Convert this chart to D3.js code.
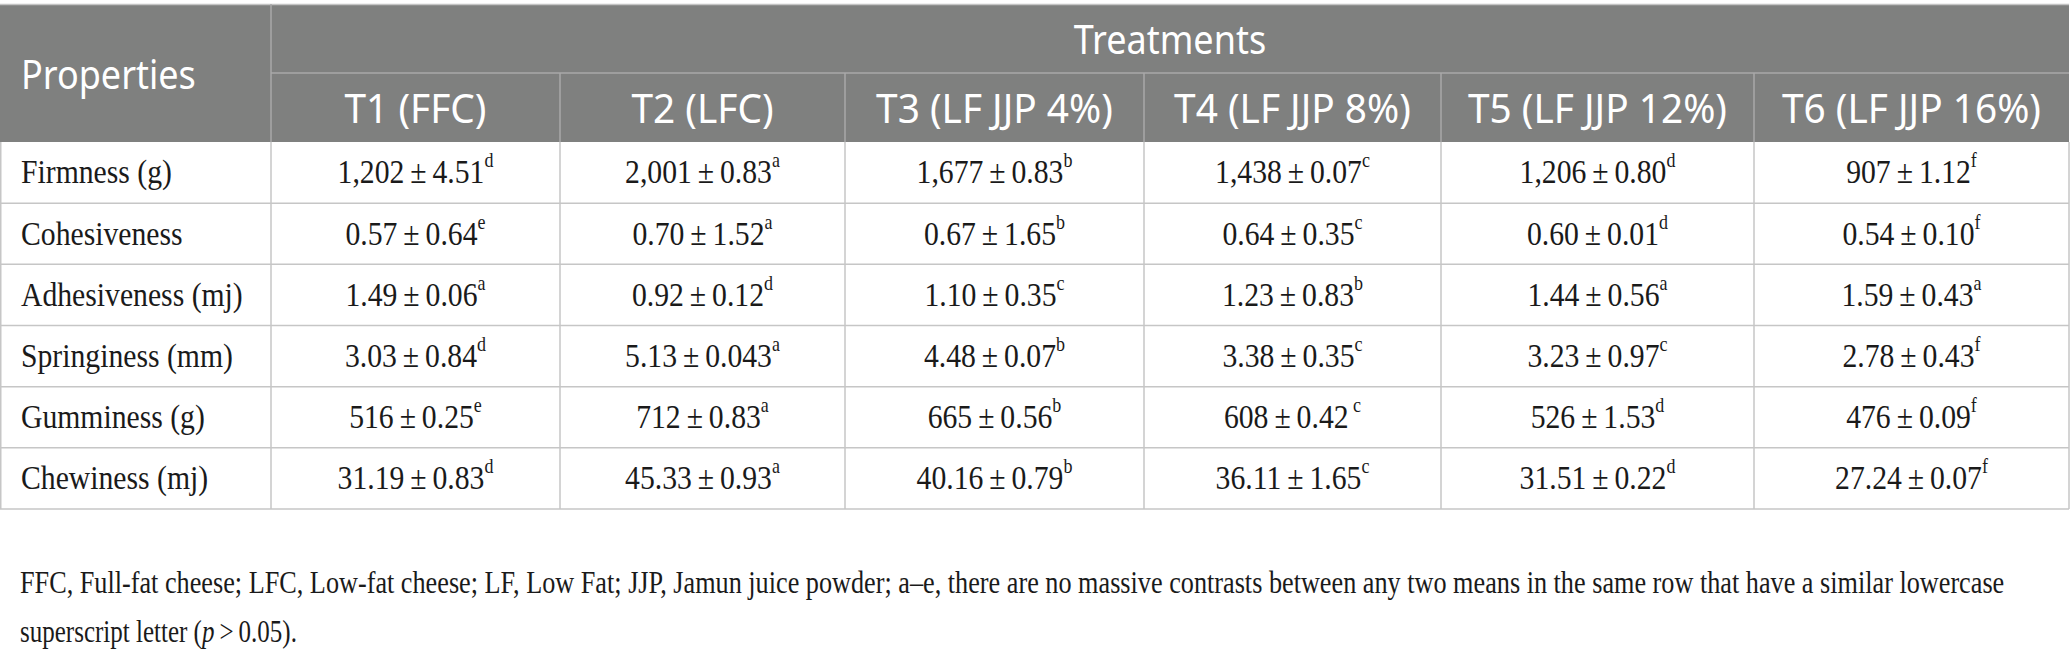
<!DOCTYPE html>
<html lang="en">
<head>
  <meta charset="UTF-8">
  <title>Texture profile of low-fat cheese with jamun juice powder</title>
  <script src="https://d3js.org/d3.v7.min.js"></script>
  <style>
    html, body {
      margin: 0;
      padding: 0;
      background: #fff;
    }
    svg {
      display: block;
    }
    .head {
      font-family: "Noto Sans", sans-serif;
      fill: #fff;
    }
    .cell {
      font-family: "Liberation Serif", serif;
      fill: #1a1a1a;
    }
  </style>
</head>
<body>
  <svg width="2071" height="649"></svg>

  <script>
    // table content
    const properties = ["Firmness (g)", "Cohesiveness", "Adhesiveness (mj)", "Springiness (mm)", "Gumminess (g)", "Chewiness (mj)"];
    const treatments = ["T1 (FFC)", "T2 (LFC)", "T3 (LF JJP 4%)", "T4 (LF JJP 8%)", "T5 (LF JJP 12%)", "T6 (LF JJP 16%)"];

    const means = [
      ["1,202", "2,001", "1,677", "1,438", "1,206", "907"],
      ["0.57", "0.70", "0.67", "0.64", "0.60", "0.54"],
      ["1.49", "0.92", "1.10", "1.23", "1.44", "1.59"],
      ["3.03", "5.13", "4.48", "3.38", "3.23", "2.78"],
      ["516", "712", "665", "608", "526", "476"],
      ["31.19", "45.33", "40.16", "36.11", "31.51", "27.24"]
    ];
    const errors = [
      ["4.51", "0.83", "0.83", "0.07", "0.80", "1.12"],
      ["0.64", "1.52", "1.65", "0.35", "0.01", "0.10"],
      ["0.06", "0.12", "0.35", "0.83", "0.56", "0.43"],
      ["0.84", "0.043", "0.07", "0.35", "0.97", "0.43"],
      ["0.25", "0.83", "0.56", "0.42", "1.53", "0.09"],
      ["0.83", "0.93", "0.79", "1.65", "0.22", "0.07"]
    ];
    const letters = [
      ["d", "a", "b", "c", "d", "f"],
      ["e", "a", "b", "c", "d", "f"],
      ["a", "d", "c", "b", "a", "a"],
      ["d", "a", "b", "c", "c", "f"],
      ["e", "a", "b", " c", "d", "f"],
      ["d", "a", "b", "c", "d", "f"]
    ];
    const footnote = [
      "FFC, Full-fat cheese; LFC, Low-fat cheese; LF, Low Fat; JJP, Jamun juice powder; a\u2013e, there are no massive contrasts between any two means in the same row that have a similar lowercase",
      ["superscript letter (", "p", "\u2009>\u20090.05)."]
    ];

    // layout
    const colEdges = [0, 271, 560, 845, 1144, 1441, 1754, 2069];
    const tableTop = 4, headMid = 73, headBottom = 142, tableBottom = 509;
    const headFill = "#7f807f", headLine = "#a9a9a9", bodyLine = "#c6c6c6";
    const serifSize = 33, serifSqueeze = 0.9;

    const svg = d3.select("svg");

    const y = d3.scaleBand()
      .domain(properties)
      .range([headBottom, tableBottom]);

    const colX = d3.scaleOrdinal()
      .domain(["Properties"].concat(treatments))
      .range(colEdges.slice(0, -1));
    const colW = i => colEdges[i + 1] - colEdges[i];

    // place text at (x, y) with a horizontal squeeze
    function place(sel, fx, fy, sx) {
      sel.attr("transform", (d, i) => `translate(${fx(d, i)},${fy(d, i)}) scale(${sx},1)`);
    }

    // fit a text element to a given width
    function fitWidth(sel, x, yPos, w) {
      const natural = sel.node().getComputedTextLength();
      sel.attr("transform", `translate(${x},${yPos}) scale(${w / natural},1)`);
    }

    // header block
    svg.append("rect")
      .attr("x", colEdges[0])
      .attr("y", tableTop)
      .attr("width", colEdges[colEdges.length - 1] - colEdges[0])
      .attr("height", headBottom - tableTop)
      .attr("fill", headFill);

    svg.append("line")
      .attr("x1", colEdges[0]).attr("x2", colEdges[colEdges.length - 1])
      .attr("y1", tableTop + 0.5).attr("y2", tableTop + 0.5)
      .attr("stroke", "#c4c4c4").attr("stroke-width", 1.5);

    svg.append("line")
      .attr("x1", colEdges[1]).attr("x2", colEdges[colEdges.length - 1])
      .attr("y1", headMid).attr("y2", headMid)
      .attr("stroke", headLine).attr("stroke-width", 1.5);

    svg.append("line")
      .attr("x1", colEdges[1]).attr("x2", colEdges[1])
      .attr("y1", tableTop).attr("y2", headBottom)
      .attr("stroke", headLine).attr("stroke-width", 1.5);

    svg.selectAll(".hsep")
      .data(treatments.slice(1))
      .join("line")
      .attr("class", "hsep")
      .attr("x1", d => colX(d)).attr("x2", d => colX(d))
      .attr("y1", headMid).attr("y2", headBottom)
      .attr("stroke", headLine).attr("stroke-width", 1.5);

    svg.append("text")
      .attr("class", "head")
      .attr("dy", "0.36em")
      .attr("font-size", 40)
      .text("Properties")
      .call(place, () => 21, () => (tableTop + headBottom) / 2 + 2, 0.9);

    svg.append("text")
      .attr("class", "head")
      .attr("dy", "0.36em")
      .attr("text-anchor", "middle")
      .attr("font-size", 40)
      .text("Treatments")
      .call(place, () => (colEdges[1] + colEdges[colEdges.length - 1]) / 2, () => (tableTop + headMid) / 2 + 1, 0.9);

    svg.selectAll(".tname")
      .data(treatments)
      .join("text")
      .attr("class", "head tname")
      .attr("dy", "0.36em")
      .attr("text-anchor", "middle")
      .attr("font-size", 40)
      .text(d => d)
      .call(place, (d, i) => colX(d) + colW(i + 1) / 2, () => (headMid + headBottom) / 2 + 1, 0.97);

    // body grid
    svg.selectAll(".rowline")
      .data(properties)
      .join("line")
      .attr("class", "rowline")
      .attr("x1", colEdges[0]).attr("x2", colEdges[colEdges.length - 1])
      .attr("y1", d => y(d) + y.bandwidth()).attr("y2", d => y(d) + y.bandwidth())
      .attr("stroke", bodyLine).attr("stroke-width", 1.5);

    svg.selectAll(".colline")
      .data(colEdges)
      .join("line")
      .attr("class", "colline")
      .attr("x1", d => d + (d === 0 ? 0.75 : 0)).attr("x2", d => d + (d === 0 ? 0.75 : 0))
      .attr("y1", headBottom).attr("y2", tableBottom)
      .attr("stroke", bodyLine).attr("stroke-width", 1.5);

    // row labels
    svg.selectAll(".rlabel")
      .data(properties)
      .join("text")
      .attr("class", "cell rlabel")
      .attr("dy", "0.33em")
      .attr("font-size", serifSize)
      .text(d => d)
      .call(place, () => 21, d => y(d) + y.bandwidth() / 2, serifSqueeze);

    // values
    const cells = [];
    properties.forEach((p, r) => {
      treatments.forEach((t, c) => {
        cells.push({ p, t, c, mean: means[r][c], err: errors[r][c], sig: letters[r][c] });
      });
    });

    const vals = svg.selectAll(".val")
      .data(cells)
      .join("text")
      .attr("class", "cell val")
      .attr("dy", "0.33em")
      .attr("text-anchor", "middle")
      .attr("font-size", serifSize)
      .attr("xml:space", "preserve")
      .call(place, d => colX(d.t) + colW(d.c + 1) / 2, d => y(d.p) + y.bandwidth() / 2, serifSqueeze);

    vals.append("tspan").text(d => d.mean + "\u2009\u00b1\u2009" + d.err);
    vals.append("tspan")
      .attr("font-size", 20)
      .attr("dy", "-0.8em")
      .text(d => d.sig);

    // footnote
    const fn1 = svg.append("text")
      .attr("class", "cell")
      .attr("font-size", 31)
      .text(footnote[0]);
    fitWidth(fn1, 20, 593, 1985);

    const fn2 = svg.append("text")
      .attr("class", "cell")
      .attr("font-size", 31)
      .attr("xml:space", "preserve");
    fn2.append("tspan").text(footnote[1][0]);
    fn2.append("tspan").attr("font-style", "italic").text(footnote[1][1]);
    fn2.append("tspan").text(footnote[1][2]);
    fitWidth(fn2, 20, 642, 277);
  </script>
</body>
</html>
